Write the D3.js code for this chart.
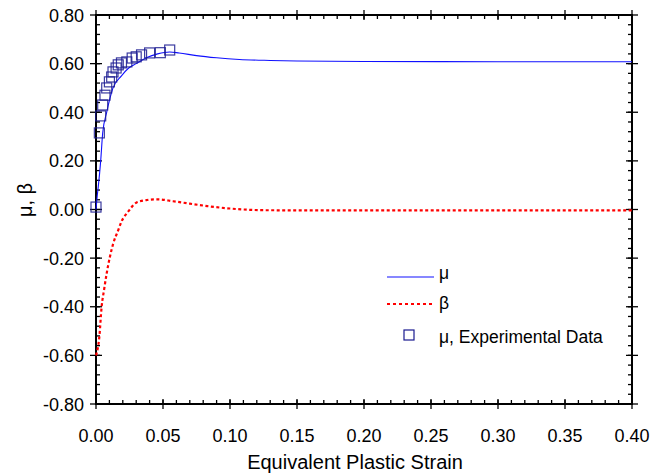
<!DOCTYPE html>
<html>
<head>
<meta charset="utf-8">
<title>mu beta vs strain</title>
<script src="https://d3js.org/d3.v7.min.js"></script>
<style>
  body { margin: 0; background: #fff; }
  text { font-family: "Liberation Sans", Arial, sans-serif; fill: #000; }
  .tick-label { font-size: 18px; }
  .axis-title { font-size: 20px; }
  .legend-text { font-size: 17.5px; }
</style>
</head>
<body>
<div id="chart"></div>
<script>
// model curves
const muStrain = [0, 0.0008, 0.0017, 0.0035, 0.005, 0.008, 0.0127, 0.019, 0.024, 0.030, 0.038, 0.046, 0.055, 0.062, 0.075, 0.09, 0.107, 0.13, 0.15, 0.2, 0.3, 0.4];
const muValues = [0, 0.05, 0.094, 0.2, 0.315, 0.4, 0.5, 0.55, 0.58, 0.6, 0.625, 0.64, 0.648, 0.644, 0.633, 0.624, 0.617, 0.613, 0.611, 0.609, 0.608, 0.608];

const betaStrain = [0, 0.0025, 0.0042, 0.006, 0.008, 0.0104, 0.0129, 0.0166, 0.019, 0.024, 0.030, 0.038, 0.046, 0.0575, 0.070, 0.083, 0.1, 0.127, 0.2, 0.3, 0.4];
const betaValues = [-0.6, -0.523, -0.40, -0.331, -0.262, -0.194, -0.139, -0.085, -0.05, -0.009, 0.028, 0.039, 0.042, 0.034, 0.024, 0.014, 0.004, -0.003, -0.004, -0.004, -0.004];

// experimental points
const expStrain = [0, 0.0025, 0.0035, 0.005, 0.0067, 0.008, 0.01, 0.0117, 0.0127, 0.015, 0.0166, 0.019, 0.023, 0.027, 0.030, 0.034, 0.040, 0.048, 0.055];
const expMu = [0.01, 0.315, 0.385, 0.43, 0.47, 0.50, 0.525, 0.545, 0.566, 0.582, 0.595, 0.603, 0.607, 0.623, 0.628, 0.636, 0.644, 0.645, 0.656];

const xTicks = [0, 0.05, 0.1, 0.15, 0.2, 0.25, 0.3, 0.35, 0.4];
const yTicks = [-0.8, -0.6, -0.4, -0.2, 0, 0.2, 0.4, 0.6, 0.8];

const width = 651, height = 476;
const pL = 96, pR = 632, pT = 15, pB = 404;

const svg = d3.select("#chart").append("svg")
  .attr("width", width).attr("height", height);

const x = d3.scaleLinear().domain([0, 0.4]).range([pL, pR]);
const y = d3.scaleLinear().domain([-0.8, 0.8]).range([pB, pT]);

const xMinor = d3.range(0, 0.4001, 0.01);
const yMinor = d3.range(-0.8, 0.8001, 0.04);

// ticks
const tg = svg.append("g").attr("stroke", "#000").attr("stroke-width", 1.3);
xMinor.forEach(v => {
  tg.append("line").attr("x1", x(v)).attr("x2", x(v)).attr("y1", pB).attr("y2", pB - 4);
  tg.append("line").attr("x1", x(v)).attr("x2", x(v)).attr("y1", pT).attr("y2", pT + 4);
});
yMinor.forEach(v => {
  tg.append("line").attr("y1", y(v)).attr("y2", y(v)).attr("x1", pL).attr("x2", pL + 4);
  tg.append("line").attr("y1", y(v)).attr("y2", y(v)).attr("x1", pR).attr("x2", pR - 4);
});
xTicks.forEach(v => {
  tg.append("line").attr("x1", x(v)).attr("x2", x(v)).attr("y1", pB + 5).attr("y2", pB - 5);
  tg.append("line").attr("x1", x(v)).attr("x2", x(v)).attr("y1", pT - 5).attr("y2", pT + 5);
});
yTicks.forEach(v => {
  tg.append("line").attr("y1", y(v)).attr("y2", y(v)).attr("x1", pL - 6).attr("x2", pL + 6);
  tg.append("line").attr("y1", y(v)).attr("y2", y(v)).attr("x1", pR - 6).attr("x2", pR + 6);
});

// frame
svg.append("rect")
  .attr("x", pL).attr("y", pT)
  .attr("width", pR - pL).attr("height", pB - pT)
  .attr("fill", "none").attr("stroke", "#000").attr("stroke-width", 2);

// tick labels
svg.selectAll(".xl").data(xTicks).enter().append("text")
  .attr("class", "tick-label")
  .attr("x", d => x(d)).attr("y", 442)
  .attr("text-anchor", "middle")
  .text(d => d.toFixed(2));

svg.selectAll(".yl").data(yTicks).enter().append("text")
  .attr("class", "tick-label")
  .attr("x", 84).attr("y", d => y(d) + 6.5)
  .attr("text-anchor", "end")
  .text(d => d.toFixed(2));

// axis titles
svg.append("text").attr("class", "axis-title")
  .attr("x", 355).attr("y", 469)
  .attr("text-anchor", "middle")
  .text("Equivalent Plastic Strain");

svg.append("text").attr("class", "axis-title")
  .attr("transform", "translate(32,200) rotate(-90)")
  .attr("text-anchor", "middle")
  .text("μ, β");

// curves
const line = d3.line().x(d => x(d[0])).y(d => y(d[1])).curve(d3.curveMonotoneX);

svg.append("path")
  .datum(muStrain.map((s, i) => [s, muValues[i]]))
  .attr("d", line)
  .attr("fill", "none").attr("stroke", "#1010ff").attr("stroke-width", 1.1);

svg.append("path")
  .datum(betaStrain.map((s, i) => [s, betaValues[i]]))
  .attr("d", line)
  .attr("fill", "none").attr("stroke", "#ff0000").attr("stroke-width", 2.2)
  .attr("stroke-dasharray", "3,2.5");

// experimental squares
const sq = 10;
svg.selectAll(".exp").data(expStrain.map((s, i) => [s, expMu[i]])).enter().append("rect")
  .attr("x", d => x(d[0]) - sq / 2).attr("y", d => y(d[1]) - sq / 2)
  .attr("width", sq).attr("height", sq)
  .attr("fill", "none").attr("stroke", "#1a1a90").attr("stroke-opacity", 0.85).attr("stroke-width", 1.2);

// legend
const lg = svg.append("g");
lg.append("line").attr("x1", 387).attr("x2", 434).attr("y1", 277).attr("y2", 277)
  .attr("stroke", "#1010ff").attr("stroke-width", 1.1);
lg.append("text").attr("class", "legend-text").attr("x", 439).attr("y", 279).text("μ");
lg.append("line").attr("x1", 387).attr("x2", 434).attr("y1", 304).attr("y2", 304)
  .attr("stroke", "#ff0000").attr("stroke-width", 2.2).attr("stroke-dasharray", "3,3");
lg.append("text").attr("class", "legend-text").attr("x", 439).attr("y", 309).text("β");
lg.append("rect").attr("x", 404).attr("y", 330).attr("width", 10).attr("height", 10)
  .attr("fill", "none").attr("stroke", "#1a1a90").attr("stroke-width", 1.2);
lg.append("text").attr("class", "legend-text").attr("x", 439).attr("y", 343).text("μ, Experimental Data");
</script>
</body>
</html>
